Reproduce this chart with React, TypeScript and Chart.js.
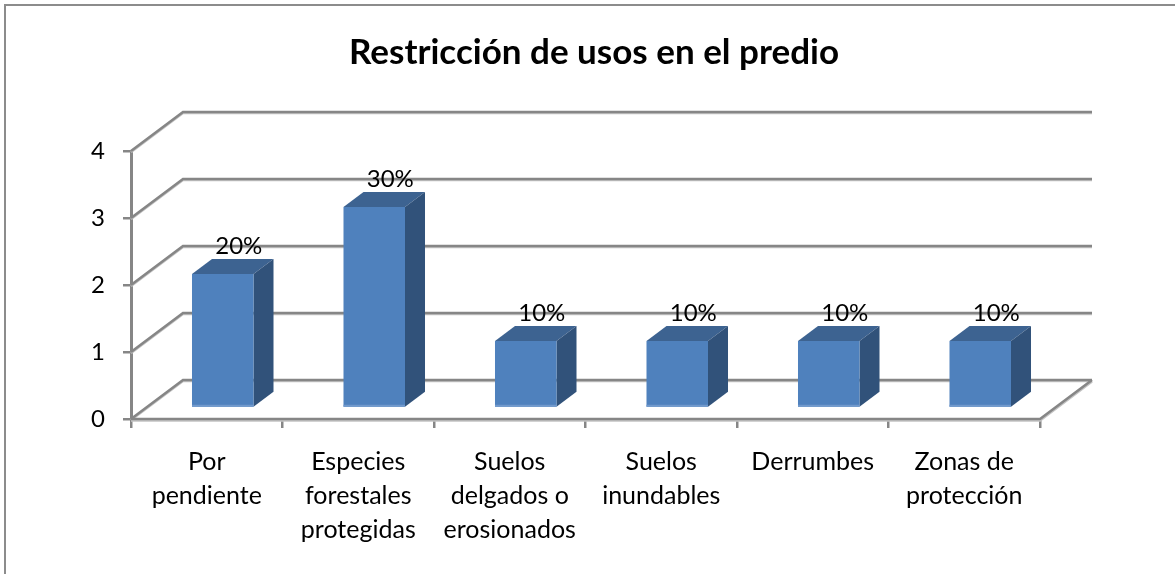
import React, { useEffect, useRef } from "react";
import { Chart, registerables } from "chart.js";

Chart.register(...registerables);

const categories = [
  ["Por", "pendiente"],
  ["Especies", "forestales", "protegidas"],
  ["Suelos", "delgados o", "erosionados"],
  ["Suelos", "inundables"],
  ["Derrumbes"],
  ["Zonas de", "protección"],
];
const values = [2, 3, 1, 1, 1, 1];
const valueLabels = ["20%", "30%", "10%", "10%", "10%", "10%"];
const chartTitle = "Restricción de usos en el predio";

const FONT = "Lato, 'Open Sans', sans-serif";
const GRID = "#868686";
const GRID_SHADOW = "#c4c4c4";
const WALL_DX = 52;
const WALL_DY = -39;
const BAR_DX = 20;
const BAR_DY = -15;
const BAR_SHIFT_X = 16;
const BAR_SHIFT_Y = -11;
const TITLE_CENTER = 594;

const scene3d = {
  id: "scene3d",
  afterLayout(chart: any) {
    const t = chart.titleBlock;
    t.left = TITLE_CENTER - 400;
    t.right = TITLE_CENTER + 400;
    t.width = 800;
  },
  beforeDraw(chart: any) {
    const { ctx, width, height } = chart;
    ctx.save();
    ctx.strokeStyle = "#8c8c8c";
    ctx.lineWidth = 2;
    ctx.beginPath();
    ctx.moveTo(5, height);
    ctx.lineTo(5, 5);
    ctx.lineTo(width, 5);
    ctx.stroke();
    ctx.restore();
  },
  beforeDatasetsDraw(chart: any) {
    const { ctx, chartArea, scales } = chart;
    const { left, right } = chartArea;
    ctx.save();
    ctx.lineJoin = "miter";
    const line = (pts: number[][], color: string, w: number, oy = 0) => {
      ctx.strokeStyle = color;
      ctx.lineWidth = w;
      ctx.beginPath();
      pts.forEach(([x, y], i) => (i ? ctx.lineTo(x, y + oy) : ctx.moveTo(x, y + oy)));
      ctx.stroke();
    };
    for (const t of scales.y.ticks) {
      const y = scales.y.getPixelForValue(t.value);
      const pts = [
        [left, y],
        [left + WALL_DX, y + WALL_DY],
        [right + WALL_DX, y + WALL_DY],
      ];
      line(pts, GRID_SHADOW, 2.5, 1);
      line(pts, GRID, 2.5);
      if (t.value === 0) {
        const floor = [
          [right + WALL_DX, y + WALL_DY],
          [right, y],
          [left, y],
        ];
        line(floor, GRID_SHADOW, 2.5, 1.5);
        line(floor, GRID, 2.5);
      }
    }
    // 3D faces of each bar, taken from the bar elements
    ctx.translate(BAR_SHIFT_X, BAR_SHIFT_Y);
    for (const bar of chart.getDatasetMeta(0).data) {
      const { x, y, base, width: w } = bar.getProps(["x", "y", "base", "width"], true);
      const l = x - w / 2;
      const r = x + w / 2;
      ctx.fillStyle = "#3D6391";
      ctx.beginPath();
      ctx.moveTo(l, y);
      ctx.lineTo(l + BAR_DX, y + BAR_DY);
      ctx.lineTo(r + BAR_DX, y + BAR_DY);
      ctx.lineTo(r, y);
      ctx.fill();
      ctx.fillStyle = "#31527A";
      ctx.beginPath();
      ctx.moveTo(r, y);
      ctx.lineTo(r + BAR_DX, y + BAR_DY);
      ctx.lineTo(r + BAR_DX, base + BAR_DY);
      ctx.lineTo(r, base);
      ctx.fill();
    }
  },
  afterDatasetsDraw(chart: any) {
    const { ctx } = chart;
    const bars = chart.getDatasetMeta(0).data;
    for (const bar of bars) {
      const { x, base, width: w } = bar.getProps(["x", "base", "width"], true);
      ctx.fillStyle = "#7199CC";
      ctx.fillRect(x - w / 2, base - 2, w, 2);
    }
    ctx.restore();
    ctx.save();
    ctx.fillStyle = "#000";
    ctx.font = `24px ${FONT}`;
    ctx.textAlign = "center";
    ctx.textBaseline = "middle";
    bars.forEach((bar: any, i: number) => {
      const { x, y } = bar.getProps(["x", "y"], true);
      ctx.fillText(valueLabels[i], x + BAR_SHIFT_X + 16, y + BAR_SHIFT_Y - 28);
    });
    ctx.restore();
  },
};

export default function App() {
  const ref = useRef<HTMLCanvasElement>(null);
  useEffect(() => {
    document.body.style.margin = "0";
    const chart = new Chart(ref.current!, {
      type: "bar",
      data: {
        labels: categories as any,
        datasets: [
          {
            data: values,
            backgroundColor: "#4F81BD",
            borderWidth: 0,
            categoryPercentage: 1,
            barPercentage: 0.406,
          },
        ],
      },
      plugins: [scene3d],
      options: {
        responsive: false,
        animation: false,
        layout: { padding: { left: 13, right: 135, top: 0, bottom: 0 } },
        plugins: {
          legend: { display: false },
          tooltip: { enabled: false },
          title: {
            display: true,
            text: chartTitle,
            color: "#000",
            font: { family: FONT, size: 35, weight: "bold", lineHeight: 1.2 },
            padding: { top: 32, bottom: 77 },
          },
        },
        scales: {
          x: {
            afterFit(s: any) {
              s.height = 155;
            },
            grid: {
              drawOnChartArea: false,
              color: GRID,
              tickColor: GRID,
              lineWidth: 2.5,
              tickLength: 9,
            },
            border: { display: false },
            ticks: {
              color: "#000",
              maxRotation: 0,
              autoSkip: false,
              padding: 17.5,
              font: { family: FONT, size: 25, lineHeight: 1.35 },
            },
          },
          y: {
            min: 0,
            max: 4,
            afterFit(s: any) {
              s.width = 118;
            },
            grid: {
              drawOnChartArea: false,
              color: GRID,
              tickColor: GRID,
              lineWidth: 2.5,
              tickLength: 8,
            },
            border: { display: true, color: GRID, width: 3 },
            ticks: {
              stepSize: 1,
              color: "#000",
              padding: 18,
              font: { family: FONT, size: 24 },
            },
          },
        },
      },
    } as any);
    return () => chart.destroy();
  }, []);
  return <canvas ref={ref} width={1175} height={574} style={{ display: "block" }} />;
}
